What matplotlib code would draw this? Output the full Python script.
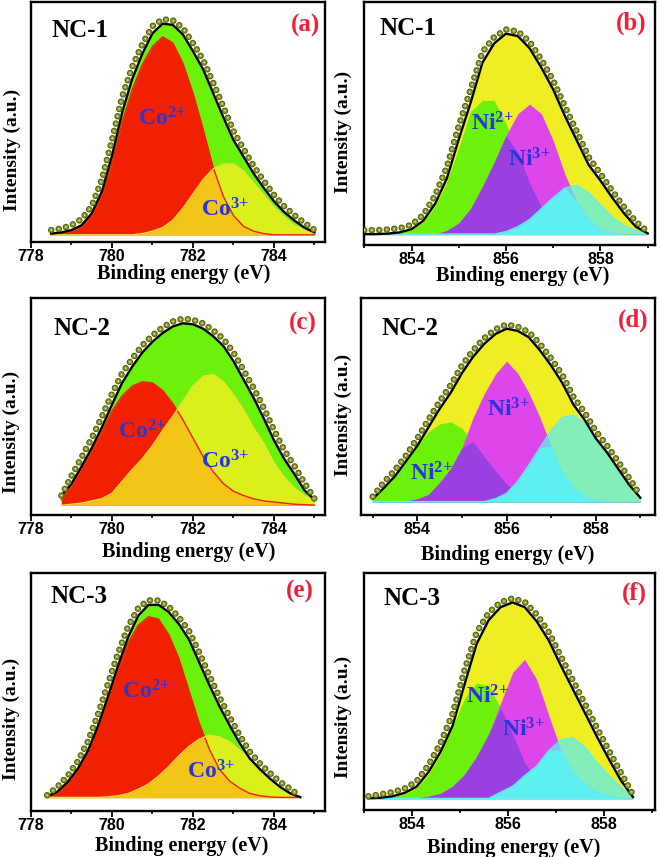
import numpy as np
import matplotlib
matplotlib.use("Agg")
import matplotlib.pyplot as plt
from matplotlib.ticker import MultipleLocator

plt.rcParams['font.family'] = ['Liberation Sans', 'DejaVu Sans']
plt.rcParams['font.weight'] = 'bold'
plt.rcParams['lines.scale_dashes'] = False
plt.rcParams['mathtext.fontset'] = 'custom'
plt.rcParams['mathtext.rm'] = 'Liberation Serif:bold'
plt.rcParams['mathtext.bf'] = 'Liberation Serif:bold'
plt.rcParams['mathtext.default'] = 'bf'

# ---------------- Co 2p (left column) ----------------
# NC-1
co_x1 = np.arange(778.5, 785.01, 0.25)
co_env1 = [.035, .04, .05, .07, .12, .21, .36, .54, .68, .785, .87, .91, .905, .865,
           .795, .72, .62, .52, .425, .355, .285, .225, .17, .125, .09, .06, .04]
co_data1 = [.05, .056, .07, .096, .15, .26, .425, .605, .73, .825, .90, .928, .924, .892,
            .828, .759, .663, .563, .462, .387, .316, .254, .196, .149, .112, .08, .05]
co2_1 = [.03, .035, .045, .065, .11, .195, .33, .50, .635, .74, .815, .855, .83, .745,
         .62, .47, .31, .19, .11, .065, .045, .035, .03, .03, .03, .03, .03]
co3_1 = [.03, .03, .03, .03, .03, .03, .03, .03, .03, .035, .045, .06, .09, .14,
         .20, .26, .305, .325, .325, .295, .245, .195, .145, .105, .07, .05, .035]

# NC-2
co_x2 = np.arange(778.75, 785.01, 0.25)
co_env2 = [.09, .145, .225, .31, .405, .51, .61, .685, .75, .80, .84, .87, .885,
           .88, .86, .825, .78, .71, .625, .54, .445, .345, .26, .19, .115, .07]
co_data2 = [.09, .18, .267, .355, .454, .559, .654, .722, .783, .829, .866, .893, .906,
            .901, .884, .852, .813, .75, .668, .585, .493, .392, .30, .228, .149, .075]
co2_2 = [.07, .135, .215, .295, .385, .48, .55, .595, .615, .61, .575, .515, .44,
         .355, .27, .20, .145, .11, .09, .075, .065, .06, .055, .05, .048, .046]
co3_2 = [.045, .05, .055, .065, .075, .10, .155, .21, .26, .32, .39, .455, .525,
         .595, .64, .648, .615, .555, .485, .40, .33, .24, .175, .125, .09, .07]

# NC-3
co_x3 = np.arange(778.4, 784.66, 0.25)
co_env3 = [.06, .08, .12, .175, .25, .355, .48, .61, .73, .82, .865, .865, .835,
           .785, .72, .625, .53, .44, .36, .285, .22, .175, .135, .10, .073, .057]
co_data3 = [.065, .10, .145, .206, .289, .403, .533, .662, .775, .852, .884, .883, .858,
            .813, .756, .666, .57, .478, .395, .318, .248, .199, .158, .121, .092, .06]
co2_3 = [.058, .075, .115, .17, .245, .35, .47, .595, .705, .78, .815, .805, .74,
         .64, .505, .37, .26, .175, .125, .095, .073, .063, .058, .056, .056, .056]
co3_3 = [.056, .056, .056, .056, .056, .056, .058, .063, .072, .09, .112, .145, .185,
         .23, .27, .30, .318, .31, .29, .255, .215, .17, .13, .10, .072, .056]

# ---------------- Ni 2p (right column) ----------------
# NC-1
ni_x1 = np.arange(853.0, 859.01, 0.25)
ni_env1 = [.045, .045, .047, .052, .065, .10, .17, .275, .435, .585, .75, .83, .87,
           .86, .81, .73, .64, .53, .43, .33, .265, .195, .13, .075, .048]
ni_data1 = [.061, .061, .064, .069, .083, .124, .204, .322, .49, .64, .794, .856, .887,
            .879, .837, .763, .677, .569, .467, .362, .293, .223, .156, .096, .055]
ni2_1 = [.045, .045, .046, .05, .062, .095, .16, .26, .40, .55, .595, .595, .50,
         .38, .255, .155, .09, .06, .05, .046, .045, .045, .045, .045, .045]
ni3_1 = [.045, .045, .045, .045, .045, .045, .045, .06, .09, .15, .24, .34, .45,
         .54, .58, .54, .43, .29, .18, .11, .065, .05, .045, .045, .045]
sat_1 = [.045, .045, .045, .045, .045, .045, .045, .045, .045, .045, .045, .045, .055,
         .075, .105, .15, .195, .235, .245, .215, .165, .115, .08, .06, .048]

# NC-2
ni_x2 = np.arange(853.0, 859.01, 0.25)
ni_env2 = [.075, .125, .18, .25, .32, .405, .49, .565, .655, .73, .79, .835, .86,
           .85, .82, .76, .69, .61, .51, .44, .355, .29, .215, .14, .08]
ni_data2 = [.085, .151, .208, .276, .354, .441, .524, .60, .69, .76, .816, .857, .879,
            .869, .844, .79, .723, .647, .546, .474, .388, .322, .248, .171, .09]
ni2_2 = [.075, .12, .18, .25, .32, .385, .42, .43, .40, .34, .27, .205, .145,
         .10, .078, .068, .063, .062, .062, .062, .062, .062, .062, .062, .062]
ni3_2 = [.062, .062, .062, .065, .075, .095, .15, .215, .31, .45, .56, .65, .71,
         .655, .565, .45, .32, .20, .13, .09, .072, .065, .062, .062, .062]
sat_2 = [.062, .062, .062, .062, .062, .062, .062, .062, .062, .062, .062, .075, .10,
         .155, .23, .31, .39, .45, .46, .425, .35, .285, .21, .135, .078]

# NC-3
ni_x3 = np.arange(853.1, 858.61, 0.25)
ni_env3 = [.05, .052, .058, .072, .098, .16, .245, .355, .53, .70, .80, .855,
           .875, .855, .795, .715, .61, .51, .41, .31, .215, .125, .055]
ni_data3 = [.058, .066, .075, .09, .12, .189, .282, .405, .59, .748, .831, .876,
            .892, .877, .824, .75, .648, .548, .448, .347, .251, .157, .065]
ni2_3 = [.049, .05, .056, .068, .092, .15, .235, .35, .47, .535, .525, .43,
         .32, .20, .125, .085, .065, .055, .05, .049, .049, .049, .049]
ni3_3 = [.049, .049, .049, .05, .052, .058, .07, .10, .15, .225, .32, .45,
         .58, .635, .55, .40, .255, .16, .11, .08, .063, .053, .05]
sat_3 = [.049, .049, .049, .049, .049, .049, .049, .049, .049, .049, .049, .075,
         .10, .145, .185, .25, .295, .305, .265, .20, .145, .095, .055]

samples = ["NC-1", "NC-1", "NC-2", "NC-2", "NC-3", "NC-3"]
letters = ["(a)", "(b)", "(c)", "(d)", "(e)", "(f)"]

RED = '#f02000'
GREEN = '#6cf20a'
YELLOW = '#f5f020'
NI_YEL = '#eeee22'
MAGENTA = '#dc46ea'
PURPLE = '#9a3fe2'
CYAN = '#5ef0f0'
BLUE = '#2a35d8'
SERIF = 'Liberation Serif'


def dots(ax, x, y):
    # olive "spheres" along the measured curve
    for lw, col in ((4.7, '#4e5808'), (3.4, '#8a9a26'), (1.2, '#e2e8a8')):
        ax.plot(x, y, color=col, lw=lw, ls=(0, (0.01, 5.4)),
                dash_capstyle='round', zorder=6)


def draw_co(ax, x, env, data, c2, c3, base):
    ax.fill_between(x, base, env, color=GREEN, lw=0, zorder=1)
    ax.fill_between(x, base, c2, color=RED, lw=0, zorder=2)
    ax.fill_between(x, base, c3, color=YELLOW, alpha=0.8, lw=0, zorder=3)
    ax.plot(x, c2, color=RED, lw=1.0, zorder=3)
    ax.plot(x, c3, color='#f0e040', lw=1.0, zorder=4)
    ax.plot(x, env, color='k', lw=1.7, zorder=5)
    dots(ax, x, data)


def draw_ni(ax, x, env, data, n2, n3, sat, base):
    ax.fill_between(x, base, env, color=NI_YEL, lw=0, zorder=1)
    ax.fill_between(x, base, n2, color=GREEN, lw=0, zorder=2)
    ax.fill_between(x, base, n3, color=MAGENTA, lw=0, zorder=2.1)
    ax.fill_between(x, base, np.minimum(n2, n3), color=PURPLE, lw=0, zorder=2.2)
    ax.fill_between(x, base, sat, color=CYAN, alpha=0.75, lw=0, zorder=2.3)
    ax.fill_between(x, base, np.minimum(sat, n3), color=CYAN, lw=0, zorder=2.4)
    ax.plot(x, sat, color=CYAN, lw=1.0, zorder=2.5)
    ax.plot(x, env, color='k', lw=1.7, zorder=5)
    dots(ax, x, data)


def style(ax, xlim, xlab_xy, ylab_xy, name_xy, letter_xy, i):
    ax.set_xlim(*xlim)
    ax.set_ylim(0, 1)
    ax.set_yticks([])
    ax.xaxis.set_major_locator(MultipleLocator(2))
    ax.xaxis.set_minor_locator(MultipleLocator(1))
    ax.tick_params(axis='x', which='major', direction='out', length=4, width=1.3,
                   labelsize=11.5, pad=1)
    ax.tick_params(axis='x', which='minor', direction='out', length=2.5, width=1.2)
    for sp in ax.spines.values():
        sp.set_linewidth(1.7)
    ax.set_xlabel('Binding energy (eV)', fontfamily=SERIF, fontweight='bold', fontsize=14.5)
    ax.xaxis.set_label_coords(*xlab_xy)
    ax.xaxis.label.set_va('center')
    ax.set_ylabel('Intensity (a.u.)', fontfamily=SERIF, fontweight='bold', fontsize=14)
    ax.yaxis.set_label_coords(*ylab_xy)
    ax.yaxis.label.set_va('center')
    ax.text(*name_xy, samples[i], transform=ax.transAxes, ha='left', va='center',
            fontfamily=SERIF, fontweight='bold', fontsize=18, zorder=8)
    ax.text(*letter_xy, letters[i], transform=ax.transAxes, ha='right', va='center',
            fontfamily=SERIF, fontweight='bold', fontsize=18, color='#f0203a', zorder=8)


def ion(ax, x, y, s):
    ax.text(x, y, s, ha='left', va='center', fontfamily=SERIF, fontweight='bold',
            fontsize=17, color=BLUE, zorder=7)


fig = plt.figure(figsize=(6.61, 8.57), dpi=100)

ax = fig.add_axes([0.0469, 0.7176, 0.4448, 0.2800])
draw_co(ax, co_x1, co_env1, co_data1, co2_1, co3_1, 0.03)
style(ax, (778, 785.26), (0.518, -0.132), (-0.065, 0.383), (0.071, 0.883), (0.983, 0.904), 0)
ion(ax, 780.65, 0.515, r'Co$^{2{+}}$')
ion(ax, 782.21, 0.134, r'Co$^{3{+}}$')

ax = fig.add_axes([0.5511, 0.7141, 0.4402, 0.2835])
draw_ni(ax, ni_x1, ni_env1, ni_data1, ni2_1, ni3_1, sat_1, 0.043)
style(ax, (853.0, 859.16), (0.546, -0.126), (-0.072, 0.465), (0.054, 0.892), (0.970, 0.912), 1)
ion(ax, 855.26, 0.50, r'Ni$^{2{+}}$')
ion(ax, 856.04, 0.349, r'Ni$^{3{+}}$')

ax = fig.add_axes([0.0469, 0.3990, 0.4448, 0.2529])
draw_co(ax, co_x2, co_env2, co_data2, co2_2, co3_2, 0.045)
style(ax, (778, 785.26), (0.535, -0.170), (-0.066, 0.384), (0.076, 0.862), (0.972, 0.885), 2)
ion(ax, 780.16, 0.385, r'Co$^{2{+}}$')
ion(ax, 782.21, 0.246, r'Co$^{3{+}}$')

ax = fig.add_axes([0.5457, 0.3990, 0.4452, 0.2529])
draw_ni(ax, ni_x2, ni_env2, ni_data2, ni2_2, ni3_2, sat_2, 0.06)
style(ax, (852.73, 859.33), (0.500, -0.182), (-0.060, 0.460), (0.071, 0.862), (0.977, 0.900), 3)
ion(ax, 853.84, 0.192, r'Ni$^{2{+}}$')
ion(ax, 855.56, 0.485, r'Ni$^{3{+}}$')

ax = fig.add_axes([0.0469, 0.0540, 0.4448, 0.2777])
draw_co(ax, co_x3, co_env3, co_data3, co2_3, co3_3, 0.055)
style(ax, (778, 785.26), (0.513, -0.150), (-0.066, 0.385), (0.065, 0.899), (0.960, 0.920), 4)
ion(ax, 780.24, 0.50, r'Co$^{2{+}}$')
ion(ax, 781.84, 0.164, r'Co$^{3{+}}$')

ax = fig.add_axes([0.5500, 0.0548, 0.4410, 0.2769])
draw_ni(ax, ni_x3, ni_env3, ni_data3, ni2_3, ni3_3, sat_3, 0.048)
style(ax, (853.0, 859.06), (0.514, -0.160), (-0.069, 0.393), (0.068, 0.892), (0.972, 0.913), 5)
ion(ax, 855.14, 0.478, r'Ni$^{2{+}}$')
ion(ax, 855.87, 0.337, r'Ni$^{3{+}}$')

fig.savefig('out.png', dpi=100)
